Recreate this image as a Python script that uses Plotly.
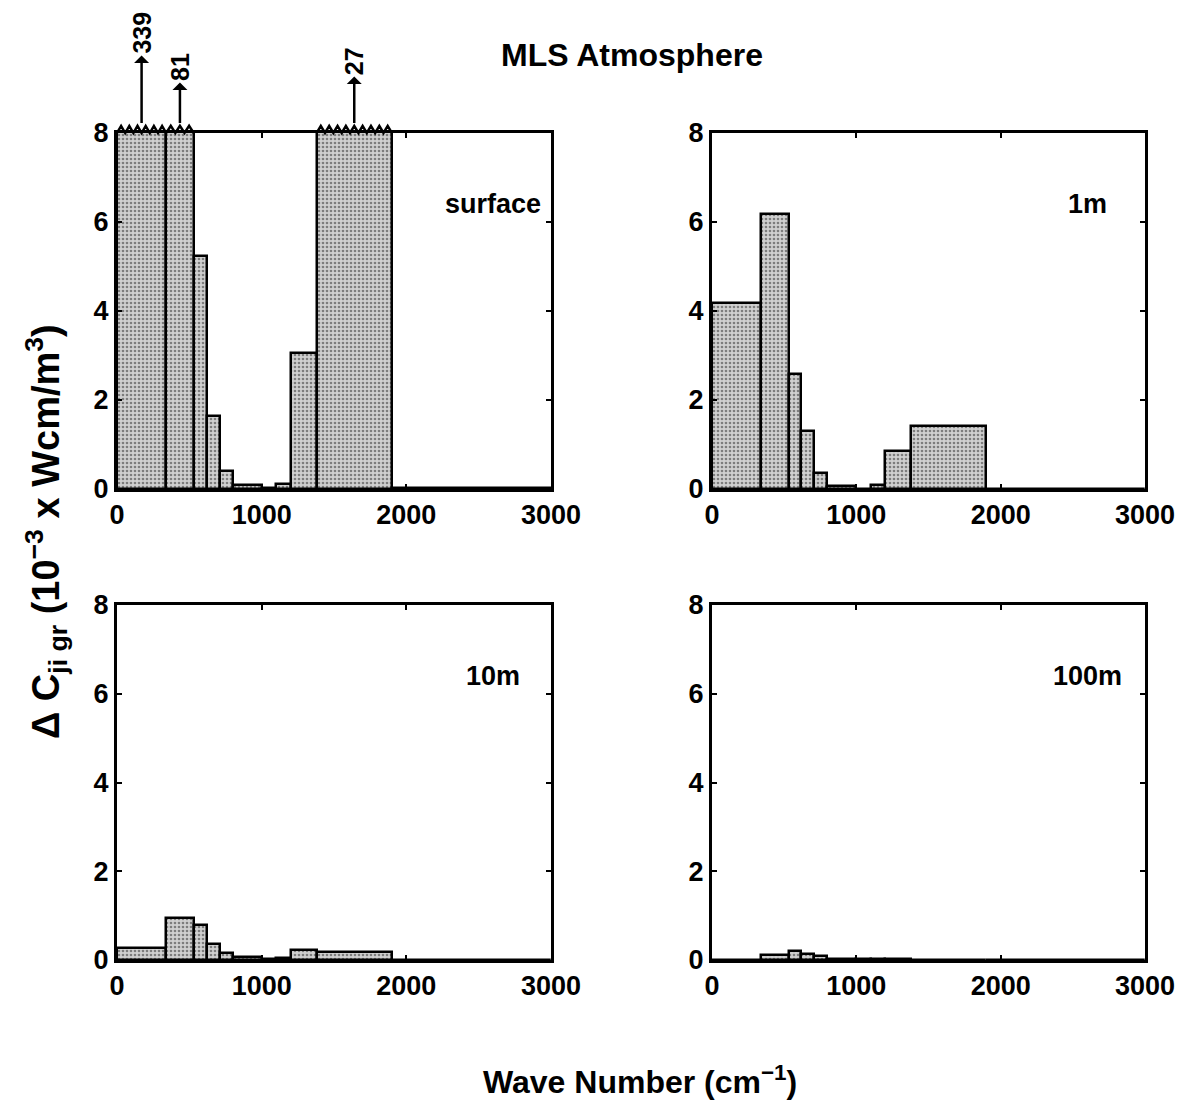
import numpy as np
import plotly.graph_objects as go

# Spectral band edges (cm^-1) and per-band values for each height
band_edges = [0, 340, 530, 620, 710, 800, 1000, 1100, 1200, 1380, 1900, 3000]
surface = [339, 81, 5.23, 1.65, 0.41, 0.08, 0.02, 0.11, 3.05, 27, 0.02]
h_1m = [4.18, 6.17, 2.59, 1.31, 0.36, 0.07, 0.01, 0.10, 0.85, 1.41, 0.01]
h_10m = [0.28, 0.94, 0.78, 0.37, 0.16, 0.07, 0.02, 0.05, 0.22, 0.19, 0.01]
h_100m = [0.01, 0.12, 0.20, 0.14, 0.10, 0.03, 0.03, 0.03, 0.03, 0.01, 0.01]

panel_names = ["surface", "1m", "10m", "100m"]
panel_values = [surface, h_1m, h_10m, h_100m]

x_ticks = [0, 1000, 2000, 3000]
y_ticks = [0, 2, 4, 6, 8]
y_max = 8

W, H = 1183, 1111
FONT = "Liberation Sans, Arial, Helvetica, sans-serif"
FILL = "#d0d0d0"

# panel boxes in pixels: (left, right, top, bottom)
boxes = [(117, 551, 133, 489), (712, 1145, 133, 489),
         (117, 551, 605, 960), (712, 1145, 605, 960)]

# arrow lengths (px) for the off-scale bands, in left-to-right order
arrow_lengths = [90, 56, 62]
TOOTH = 55          # width of one tooth of the broken bar top (cm^-1)
TOOTH_H = 0.02      # tooth height as a fraction of the panel height

edges = np.array(band_edges, dtype=float)
centers = (edges[:-1] + edges[1:]) / 2
widths = edges[1:] - edges[:-1]

fig = go.Figure()
layout = {}
for i, (name, vals) in enumerate(zip(panel_names, panel_values)):
    l, r, t, b = boxes[i]
    sfx = "" if i == 0 else str(i + 1)
    xa, ya = "x" + sfx, "y" + sfx
    fig.add_trace(go.Bar(
        x=centers, y=vals, width=widths, xaxis=xa, yaxis=ya,
        marker=dict(color=FILL,
                    line=dict(color="black", width=2.5),
                    pattern=dict(shape=".", fgcolor="#2a2a2a", bgcolor=FILL,
                                 size=4, solidity=0.35)),
        showlegend=False, hoverinfo="skip"))
    axis_common = dict(showline=True, linecolor="black", linewidth=3,
                       mirror="ticks", ticks="inside", ticklen=5, tickwidth=2,
                       tickcolor="black", showgrid=False, zeroline=False,
                       automargin=False,
                       tickfont=dict(family=FONT, size=27, color="black", weight="bold"))
    layout["xaxis" + sfx] = dict(axis_common, domain=[l / W, r / W], range=[0, 3000],
                                 tickvals=x_ticks, anchor=ya)
    layout["yaxis" + sfx] = dict(axis_common, domain=[1 - b / H, 1 - t / H], range=[0, y_max],
                                 tickvals=y_ticks, anchor=xa)
    fig.add_annotation(x=2600, y=6.4, xref=xa, yref=ya, text=name, showarrow=False,
                       font=dict(family=FONT, size=27, color="black", weight="bold"))

    # off-scale bands: jagged top edge and an arrow with the true value
    k = 0
    for c, w, v in zip(centers, widths, vals):
        if v > y_max:
            n = max(int(round(w / TOOTH)), 2)
            zx = np.linspace(c - w / 2, c + w / 2, 2 * n + 1)
            zy = np.where(np.arange(2 * n + 1) % 2 == 0, 1.0, 1.0 + TOOTH_H)
            path = "M " + " L ".join(f"{px:.2f},{py:.4f}" for px, py in zip(zx, zy))
            fig.add_shape(type="path", path=path, xref=xa, yref=ya + " domain",
                          line=dict(color="black", width=2.5), layer="above")
            fig.add_annotation(x=c, y=y_max, xref=xa, yref=ya, yshift=10,
                               ax=0, ay=-arrow_lengths[k], text=str(int(v)), textangle=-90,
                               showarrow=True, arrowside="start", arrowhead=2,
                               arrowsize=1.1, arrowwidth=2.5, arrowcolor="black",
                               font=dict(family=FONT, size=25, color="black", weight="bold"))
            k += 1

fig.add_annotation(x=632 / W, y=1 - 55 / H, xref="paper", yref="paper",
                   xanchor="center", yanchor="middle",
                   text="MLS Atmosphere", showarrow=False,
                   font=dict(family=FONT, size=32, color="black", weight="bold"))
fig.add_annotation(x=640 / W, y=1 - 1080 / H, xref="paper", yref="paper",
                   xanchor="center", yanchor="middle",
                   text="Wave Number (cm<sup>−1</sup>)", showarrow=False,
                   font=dict(family=FONT, size=32, color="black", weight="bold"))
fig.add_annotation(x=46 / W, y=1 - 532 / H, xref="paper", yref="paper", textangle=-90,
                   xanchor="center", yanchor="middle",
                   text="Δ C<sub>ji gr</sub> (10<sup>−3</sup> x Wcm/m<sup>3</sup>)",
                   showarrow=False,
                   font=dict(family=FONT, size=38, color="black", weight="bold"))

fig.update_layout(width=W, height=H, margin=dict(l=0, r=0, t=0, b=0, autoexpand=False),
                  paper_bgcolor="white", plot_bgcolor="white",
                  barmode="overlay", bargap=0, **layout)
fig.write_html("out.html")
